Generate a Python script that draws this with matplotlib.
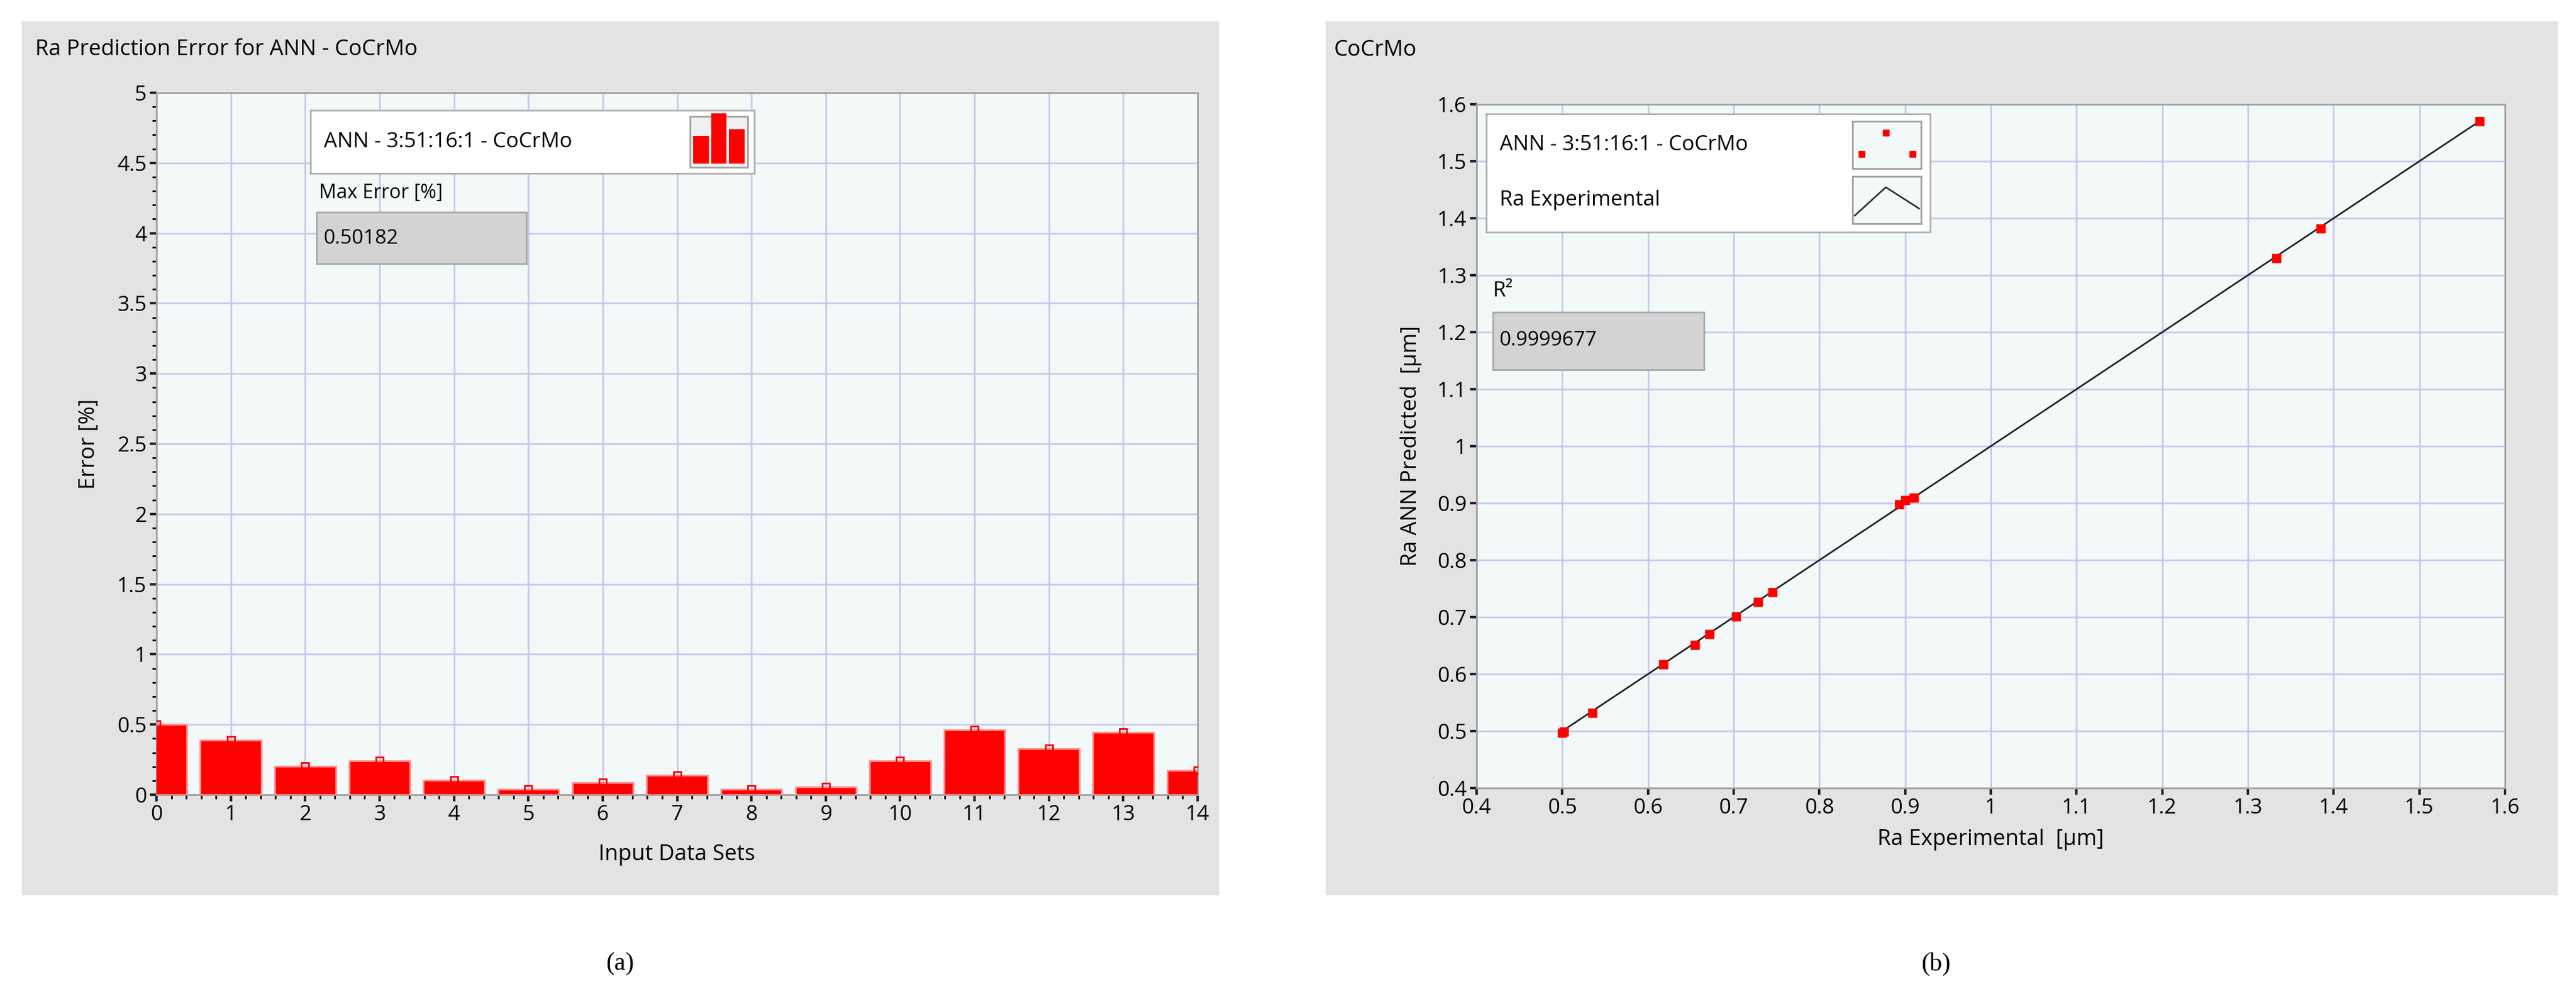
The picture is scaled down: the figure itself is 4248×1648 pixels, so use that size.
import matplotlib
matplotlib.use("Agg")
import matplotlib.pyplot as plt
from matplotlib.patches import Rectangle
from matplotlib.ticker import MultipleLocator, AutoMinorLocator

W, H = 4248, 1648

# --- data: (a) prediction error per input data set ---
data_sets = list(range(15))
error_pct = [0.502, 0.39, 0.205, 0.243, 0.103, 0.037, 0.088, 0.14, 0.037,
             0.054, 0.24, 0.46, 0.326, 0.446, 0.174]
max_error_text = "0.50182"

# --- data: (b) predicted vs experimental Ra ---
ra_exp = [0.500, 0.502, 0.535, 0.618, 0.655, 0.672, 0.703, 0.728, 0.745,
          0.893, 0.900, 0.910, 1.333, 1.385, 1.570]
ra_ann = [0.497, 0.499, 0.532, 0.617, 0.651, 0.670, 0.701, 0.727, 0.744,
          0.898, 0.905, 0.910, 1.330, 1.382, 1.570]
r2_text = "0.9999677"

FONT = ["Liberation Sans Narrow", "Open Sans", "DejaVu Sans"]
plt.rcParams["font.family"] = FONT
GRAY = "#e3e3e3"
PLOT_BG = "#f3f8f9"
GRID = "#c8c8ee"


def fx(px):
    return px / W


def fy(py):
    return 1 - py / H


def axes_box(x0, y0, x1, y1):
    return [fx(x0), fy(y1), fx(x1) - fx(x0), fy(y0) - fy(y1)]


def fig_rect(x0, y0, x1, y1, **kw):
    fig.patches.append(Rectangle((fx(x0), fy(y1)), fx(x1) - fx(x0), fy(y0) - fy(y1),
                                 transform=fig.transFigure, **kw))


fig = plt.figure(figsize=(W / 100, H / 100), dpi=100)
fig.patch.set_facecolor("white")

# gray panel backgrounds (behind the axes)
for x0, x1 in [(36, 2010), (2186, 4218)]:
    fig_rect(x0, 35, x1, 1477, facecolor=GRAY, edgecolor="none", zorder=-5)


def style(ax):
    ax.set_facecolor(PLOT_BG)
    ax.grid(True, color=GRID, lw=2)
    ax.set_axisbelow(True)
    for s in ax.spines.values():
        s.set_color("#a0a0a0")
        s.set_linewidth(2)
    ax.tick_params(labelsize=25, length=8, width=3, color="#222222")


# ---------------- (a) ----------------
ax1 = fig.add_axes(axes_box(258, 153, 1975, 1311))
style(ax1)
ax1.bar(data_sets, error_pct, width=0.82, color="#ff0000", edgecolor="#ff9090", lw=2, zorder=3)
ax1.plot(data_sets, error_pct, ls="none", marker="s", ms=9, mfc="none",
         mec="#ff0000", mew=2, zorder=4)
ax1.set_xlim(0, 14)
ax1.set_ylim(0, 5)
ax1.xaxis.set_major_locator(MultipleLocator(1))
ax1.yaxis.set_major_locator(MultipleLocator(0.5))
ax1.xaxis.set_minor_locator(AutoMinorLocator(5))
ax1.yaxis.set_minor_locator(AutoMinorLocator(5))
ax1.tick_params(which="minor", length=5, width=2)
ax1.set_yticks([0.5 * i for i in range(11)])
ax1.set_yticklabels(["0", "0.5", "1", "1.5", "2", "2.5", "3", "3.5", "4", "4.5", "5"])
ax1.set_xlabel("Input Data Sets", fontsize=26, labelpad=22)
ax1.set_ylabel("Error [%]", fontsize=26, labelpad=20)
fig.text(fx(58), fy(82), "Ra Prediction Error for ANN - CoCrMo", fontsize=26, va="center")

# legend box
lg = fig.add_axes(axes_box(512, 182, 1244, 286))
lg.set_xticks([]); lg.set_yticks([])
lg.set_facecolor("white")
for s in lg.spines.values():
    s.set_color("#b0b0b0"); s.set_linewidth(2)
lg.set_xlim(0, 1); lg.set_ylim(0, 1)
lg.text(0.03, 0.5, "ANN - 3:51:16:1 - CoCrMo", fontsize=25, va="center")
lg.add_patch(Rectangle((0.855, 0.1), 0.13, 0.8, facecolor="#f0f0f0", edgecolor="#a0a0a0", lw=2))
lg.bar([0.88, 0.92, 0.96], [0.45, 0.8, 0.55], width=0.035, bottom=0.15, color="#ff0000")
fig.text(fx(526), fy(318), "Max Error [%]", fontsize=23, va="center", zorder=10)
fig_rect(522, 350, 868, 435, facecolor="#d3d3d3", edgecolor="#a8a8a8", lw=2, zorder=10)
fig.text(fx(533), fy(393), max_error_text, fontsize=24, va="center", zorder=11)

# ---------------- (b) ----------------
ax2 = fig.add_axes(axes_box(2435, 172, 4131, 1300))
style(ax2)
ax2.plot([ra_exp[0], ra_exp[-1]], [ra_exp[0], ra_exp[-1]], color="#222222", lw=2, zorder=3)
ax2.plot(ra_exp, ra_ann, ls="none", marker="s", ms=10, color="#ff0000", zorder=4)
ax2.set_xlim(0.4, 1.6)
ax2.set_ylim(0.4, 1.6)
ticks = [0.4 + 0.1 * i for i in range(13)]
lbls = ["1" if abs(t - 1) < 1e-9 else "%.1f" % t for t in ticks]
ax2.set_xticks(ticks); ax2.set_xticklabels(lbls)
ax2.set_yticks(ticks); ax2.set_yticklabels(lbls)
ax2.set_xlabel("Ra Experimental  [\u03bcm]", fontsize=26, labelpad=12)
ax2.set_ylabel("Ra ANN Predicted  [\u03bcm]", fontsize=26, labelpad=18)
fig.text(fx(2200), fy(83), "CoCrMo", fontsize=26, va="center")

lg2 = fig.add_axes(axes_box(2451, 188, 3183, 383))
lg2.set_xticks([]); lg2.set_yticks([])
lg2.set_facecolor("white")
for s in lg2.spines.values():
    s.set_color("#b0b0b0"); s.set_linewidth(2)
lg2.set_xlim(0, 1); lg2.set_ylim(0, 1)
lg2.text(0.03, 0.74, "ANN - 3:51:16:1 - CoCrMo", fontsize=25, va="center")
lg2.text(0.03, 0.27, "Ra Experimental", fontsize=25, va="center")
lg2.add_patch(Rectangle((0.825, 0.54), 0.155, 0.4, facecolor="#f3f8f9", edgecolor="#a0a0a0", lw=2))
lg2.add_patch(Rectangle((0.825, 0.07), 0.155, 0.4, facecolor="#f3f8f9", edgecolor="#a0a0a0", lw=2))
lg2.plot([0.845, 0.9, 0.96], [0.66, 0.84, 0.66], ls="none", marker="s", ms=7, color="#ff0000")
lg2.plot([0.83, 0.9, 0.975], [0.14, 0.38, 0.2], color="#333333", lw=2)
fig.text(fx(2462), fy(480), "R\u00b2", fontsize=25, va="center", zorder=10)
fig_rect(2462, 515, 2810, 610, facecolor="#d3d3d3", edgecolor="#a8a8a8", lw=2, zorder=10)
fig.text(fx(2472), fy(562), r2_text, fontsize=24, va="center", zorder=11)

# panel captions
fig.text(fx(1022), fy(1590), "(a)", fontsize=30, ha="center", va="center",
         family=["Liberation Serif", "DejaVu Serif"])
fig.text(fx(3192), fy(1590), "(b)", fontsize=30, ha="center", va="center",
         family=["Liberation Serif", "DejaVu Serif"])

fig.savefig("out.png", dpi=100)
